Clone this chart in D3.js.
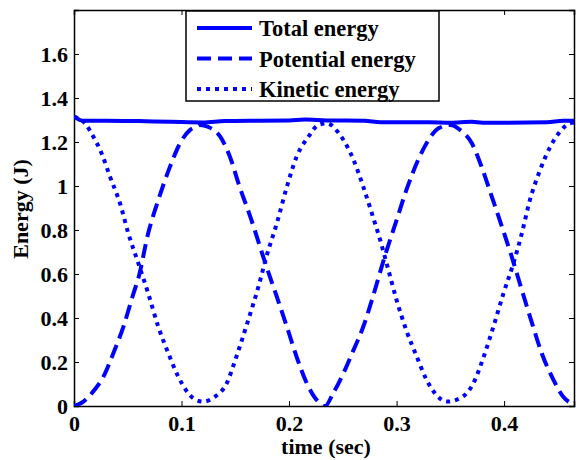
<!DOCTYPE html>
<html>
<head>
<meta charset="utf-8">
<script src="https://cdn.jsdelivr.net/npm/d3@7"></script>
<style>
  body { margin: 0; background: #fff; }
  text { font-family: "Liberation Serif", "Times New Roman", serif; font-weight: bold; fill: #000; }
</style>
</head>
<body>
<div id="chart"></div>
<script>
// values (time in sec, energy in J)
var potentialT = [0, 0.0087, 0.0165, 0.0273, 0.0366, 0.0459, 0.0552, 0.0598, 0.069, 0.0784, 0.0893, 0.0986, 0.108, 0.114, 0.117,
    0.125, 0.136, 0.145, 0.154, 0.164, 0.173, 0.179, 0.1886, 0.198, 0.207, 0.2165, 0.227, 0.2335,
    0.241, 0.2505, 0.26, 0.269, 0.278, 0.289, 0.300, 0.309, 0.320, 0.3297, 0.339, 0.350,
    0.359, 0.370, 0.379, 0.3886, 0.398, 0.407, 0.4165, 0.426, 0.435, 0.446, 0.455, 0.463, 0.467];
var potentialE = [0, 0.02, 0.058, 0.133, 0.24, 0.36, 0.51, 0.58, 0.785, 0.936, 1.088, 1.194, 1.255, 1.27, 1.277,
    1.268, 1.224, 1.133, 0.997, 0.86, 0.724, 0.633, 0.497, 0.36, 0.224, 0.103, 0.02, 0,
    0.058, 0.148, 0.255, 0.36, 0.497, 0.68, 0.845, 0.98, 1.118, 1.209, 1.262, 1.277,
    1.255, 1.194, 1.088, 0.951, 0.815, 0.68, 0.527, 0.376, 0.24, 0.118, 0.042, 0.012, 0.008];

var kineticT = [0, 0.0102, 0.018, 0.0257, 0.0335, 0.0428, 0.0505, 0.0598, 0.069, 0.0784, 0.0877, 0.097, 0.1063, 0.111, 0.12,
    0.131, 0.142, 0.151, 0.162, 0.1715, 0.179, 0.1886, 0.198, 0.207, 0.218, 0.227, 0.235,
    0.2474, 0.26, 0.269, 0.277, 0.2847, 0.2924, 0.300, 0.309, 0.3188, 0.328, 0.337, 0.3467,
    0.359, 0.3714, 0.381, 0.39, 0.3994, 0.4087, 0.4165, 0.424, 0.4335, 0.443, 0.452, 0.461, 0.467];
var kineticE = [1.315, 1.285, 1.224, 1.148, 1.042, 0.921, 0.785, 0.649, 0.512, 0.36, 0.24, 0.133, 0.058, 0.035, 0.02,
    0.042, 0.103, 0.224, 0.39, 0.542, 0.68, 0.83, 0.997, 1.133, 1.224, 1.277, 1.285,
    1.232, 1.118, 0.997, 0.876, 0.755, 0.618, 0.482, 0.345, 0.224, 0.118, 0.05, 0.02,
    0.035, 0.103, 0.224, 0.36, 0.512, 0.649, 0.785, 0.936, 1.073, 1.179, 1.247, 1.285, 1.29];

var totalT = [0, 0.008, 0.03, 0.06, 0.09, 0.12, 0.14, 0.17, 0.2, 0.215, 0.235, 0.27, 0.285, 0.3, 0.33, 0.35, 0.37, 0.38, 0.4, 0.44, 0.455, 0.467];
var totalE = [1.315, 1.297, 1.297, 1.295, 1.292, 1.289, 1.295, 1.297, 1.298, 1.302, 1.298, 1.297, 1.29, 1.29, 1.29, 1.288, 1.292, 1.288, 1.288, 1.29, 1.297, 1.297];

var xTicks = [0, 0.1, 0.2, 0.3, 0.4];
var yTicks = [0, 0.2, 0.4, 0.6, 0.8, 1, 1.2, 1.4, 1.6];
var legendNames = ["Total energy", "Potential energy", "Kinetic energy"];

var svgWidth = 576;
var svgHeight = 460;
var margin = { top: 10, right: 2, bottom: 54, left: 74 };
var width = svgWidth - margin.left - margin.right;
var height = svgHeight - margin.top - margin.bottom;

var svg = d3.select("#chart").append("svg")
    .attr("width", svgWidth)
    .attr("height", svgHeight);

var chartGroup = svg.append("g")
    .attr("transform", `translate(${margin.left}, ${margin.top})`);

var x = d3.scaleLinear().domain([0, 0.465]).range([0, width]);
var y = d3.scaleLinear().domain([0, 1.8]).range([height, 0]);

chartGroup.append("clipPath").attr("id", "clip")
    .append("rect").attr("width", width).attr("height", height);

// axes with inward ticks, matlab style box
var bottomAxis = d3.axisBottom(x).tickValues(xTicks).tickSize(-5).tickPadding(9).tickFormat(d3.format("~g"));
var leftAxis = d3.axisLeft(y).tickValues(yTicks).tickSize(-5).tickPadding(6).tickFormat(d3.format("~g"));
var topAxis = d3.axisTop(x).tickValues(xTicks).tickSize(-5).tickFormat("");
var rightAxis = d3.axisRight(y).tickValues(yTicks).tickSize(-5).tickFormat("");

function styleAxis(g) {
    g.selectAll("path").attr("stroke", "#000").attr("stroke-width", 1.5);
    g.selectAll("line").attr("stroke", "#000").attr("stroke-width", 1);
    g.selectAll("text").attr("font-size", "22px");
}

chartGroup.append("g").attr("transform", `translate(0, ${height})`).call(bottomAxis).call(styleAxis);
chartGroup.append("g").call(leftAxis).call(styleAxis);
chartGroup.append("g").call(topAxis).call(styleAxis);
chartGroup.append("g").attr("transform", `translate(${width}, 0)`).call(rightAxis).call(styleAxis);

var line = d3.line()
    .x(d => x(d[0]))
    .y(d => y(d[1]))
    .curve(d3.curveMonotoneX);

var series = [
    { t: totalT, e: totalE, dash: null },
    { t: potentialT, e: potentialE, dash: "14,7" },
    { t: kineticT, e: kineticE, dash: "4,5" }
];

var linesGroup = chartGroup.append("g").attr("clip-path", "url(#clip)");
series.forEach(function(s) {
    var pts = s.t.map((t, i) => [t, s.e[i]]);
    linesGroup.append("path")
        .attr("d", line(pts))
        .attr("fill", "none")
        .attr("stroke", "#0000ff")
        .attr("stroke-width", 4)
        .attr("stroke-dasharray", s.dash);
});

// legend
var legend = svg.append("g").attr("transform", "translate(186, 11)");
legend.append("rect")
    .attr("width", 253).attr("height", 90)
    .attr("fill", "#fff").attr("stroke", "#000").attr("stroke-width", 1.5);
legendNames.forEach(function(name, i) {
    var ly = 17 + i * 30.5;
    legend.append("line")
        .attr("x1", 11).attr("x2", 66).attr("y1", ly).attr("y2", ly)
        .attr("stroke", "#0000ff").attr("stroke-width", 4)
        .attr("stroke-dasharray", series[i].dash);
    legend.append("text")
        .attr("x", 73).attr("y", ly + 8)
        .attr("font-size", "22.5px")
        .text(name);
});

// axis labels
svg.append("text")
    .attr("x", 326).attr("y", 454)
    .attr("text-anchor", "middle")
    .attr("font-size", "22px")
    .text("time (sec)");

svg.append("text")
    .attr("transform", "translate(28, 209) rotate(-90)")
    .attr("text-anchor", "middle")
    .attr("font-size", "22px")
    .text("Energy (J)");
</script>
</body>
</html>
